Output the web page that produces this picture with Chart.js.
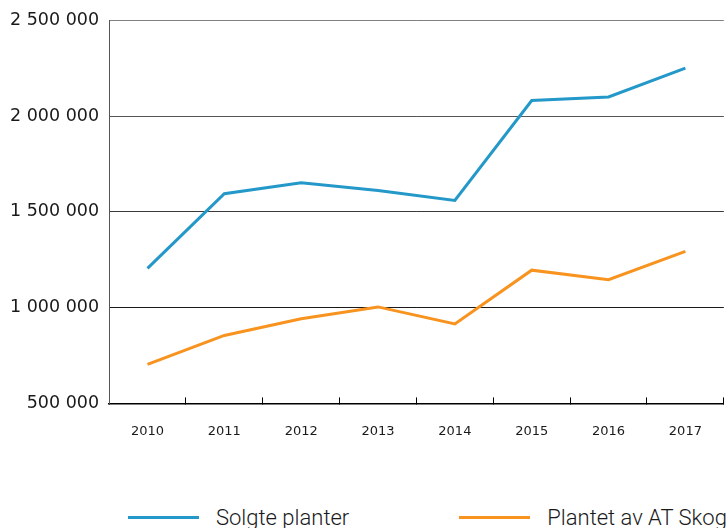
<!DOCTYPE html>
<html lang="no">
<head>
<meta charset="utf-8"/>
<title>Solgte planter og plantet av AT Skog</title>
<script src="https://cdn.jsdelivr.net/npm/chart.js@4.4.3/dist/chart.umd.min.js"></script>
<style>
  * { box-sizing: border-box; }
  html, body { margin: 0; padding: 0; background: #fff; }
  #wrap { position: relative; width: 728px; height: 528px; overflow: hidden; }
  #box { position: absolute; left: 0; top: 0; width: 728px; height: 465px; }
  #legend {
    position: absolute; left: 128px; top: 505px; display: flex; align-items: center;
    font-family: Roboto, sans-serif; font-weight: 300; font-size: 22px; color: #1a1a1a;
    white-space: nowrap;
  }
  #legend .item { display: flex; align-items: center; }
  #legend .line { display: inline-block; width: 71px; height: 3px; margin-right: 17px; }
  #legend .item + .item { margin-left: 110px; }
</style>
</head>
<body>
<div id="wrap">
  <div id="box"><canvas id="chart"></canvas></div>
  <div id="legend"></div>
</div>
<script>
// values
const years = ['2010', '2011', '2012', '2013', '2014', '2015', '2016', '2017'];
const solgtePlanter = [1205000, 1595000, 1652000, 1612000, 1560000, 2082000, 2101000, 2251000];
const plantetAvATSkog = [704000, 855000, 942000, 1004000, 915000, 1196000, 1146000, 1294000];
const yTicks = [500000, 1000000, 1500000, 2000000, 2500000];

const SERIES = [
  { label: 'Solgte planter', data: solgtePlanter, color: '#2398c9' },
  { label: 'Plantet av AT Skog', data: plantetAvATSkog, color: '#f7931e' },
];

const fmt = (v) => String(Math.round(v)).replace(/\B(?=(\d{3})+(?!\d))/g, ' ');
// the gridlines darken towards the bottom in the reference
const gridColor = (v) => ({ 2500000: '#808080', 2000000: '#555555', 1500000: '#3a3a3a', 1000000: '#1a1a1a' }[v] || '#000');

new Chart(document.getElementById('chart'), {
  type: 'line',
  data: {
    labels: years,
    datasets: SERIES.map((s) => ({
      label: s.label, data: s.data, borderColor: s.color, backgroundColor: s.color,
      borderWidth: 3, pointRadius: 0, tension: 0, fill: false,
    })),
  },
  options: {
    responsive: true, maintainAspectRatio: false, animation: false,
    layout: { padding: { top: 10, left: 0, right: 1, bottom: 0 } },
    plugins: { legend: { display: false }, tooltip: { enabled: false } },
    scales: {
      x: {
        offset: true,
        grid: { offset: true, drawOnChartArea: false, drawTicks: true, tickLength: -6, color: '#000', lineWidth: 1 },
        border: { display: true, color: '#000', width: 1.5 },
        ticks: { color: '#1a1a1a', padding: 26, font: { family: 'DejaVu Sans', size: 13 } },
      },
      y: {
        min: 500000, max: 2500000,
        afterBuildTicks: (axis) => { axis.ticks = yTicks.map((v) => ({ value: v })); },
        grid: { drawTicks: false, color: (c) => gridColor(c.tick && c.tick.value), lineWidth: 1 },
        border: { display: true, color: '#555', width: 1 },
        ticks: { color: '#1a1a1a', padding: 10, callback: (v) => fmt(v), font: { family: 'DejaVu Sans', size: 17.5 } },
      },
    },
  },
});

// legend in HTML, built from the same series list
document.getElementById('legend').innerHTML = SERIES.map((s) =>
  `<span class="item"><span class="line" style="background:${s.color}"></span>${s.label}</span>`
).join('');
</script>
</body>
</html>
